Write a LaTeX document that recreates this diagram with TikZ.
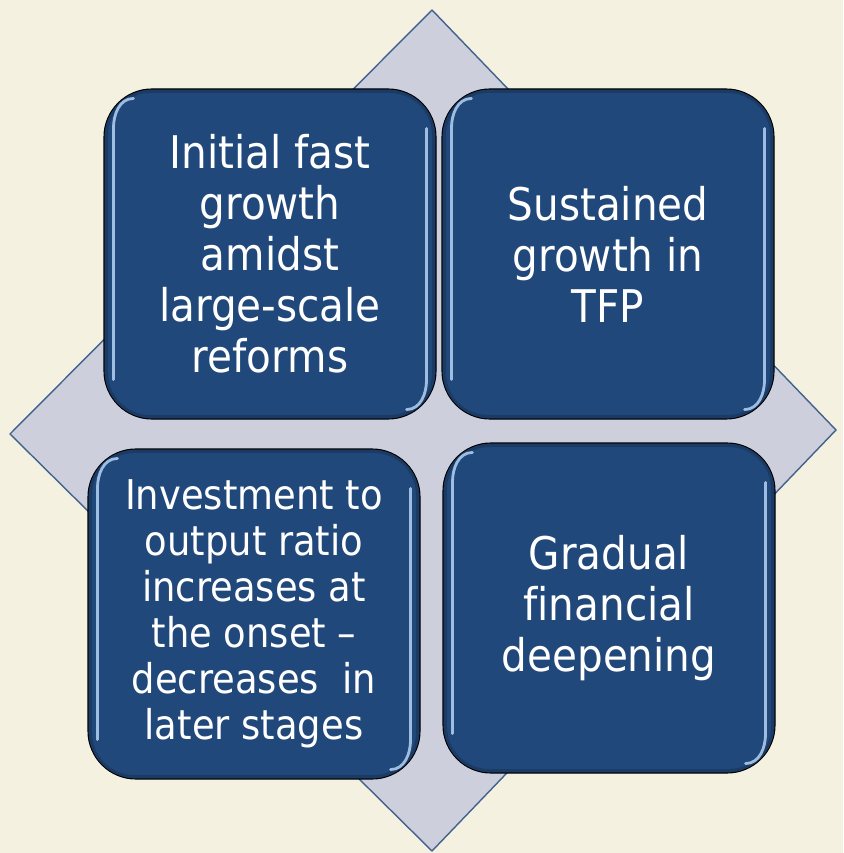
\documentclass[tikz,border=0pt]{standalone}
\usepackage{fontspec}
\setmainfont{DejaVu Sans}[FakeStretch=0.9, Ligatures=NoCommon]
\usetikzlibrary{positioning}

\definecolor{paper}{HTML}{F4F1E0}
\definecolor{kite}{HTML}{CDD0DC}
\definecolor{kiteline}{HTML}{41628D}
\definecolor{tile}{HTML}{21487B}
\definecolor{shine}{HTML}{B4D2F4}

\begin{document}
\begin{tikzpicture}[
      x=1pt, y=-1pt,
      box/.style={draw=black, line width=1.1pt, fill=tile, rounded corners=48pt,
                  minimum width=332pt, minimum height=330pt, inner sep=0pt,
                  align=center, text=white, font=\fontsize{45}{51}\selectfont},
      gleam/.style={draw=shine, line width=2.8pt, line cap=round, opacity=0.85},
      rim/.style={draw=tile!70!black, line width=3pt, rounded corners=44pt, opacity=0.6}
    ]
    % page and the kite behind the tiles
    \fill[paper] (0,0) rectangle (843,853);
    \useasboundingbox (0,0) rectangle (843,853);
    \coordinate (top) at (432,10);
    \coordinate (right) at (836,430);
    \coordinate (bottom) at (432,851);
    \coordinate (left) at (10,434);
    \filldraw[fill=kite, draw=kiteline, line width=1.4pt, line join=round]
      (top) -- (right) -- (bottom) -- (left) -- cycle;

    \node[box] (growth) at (270,254) {Initial fast\\growth\\amidst\\large-scale\\reforms};
    \node[box] (tfp) at (608,254) {Sustained\\growth in\\TFP};
    \node[box, font=\fontsize{41}{46}\selectfont] (invest) at (254,614)
      {Investment to\\output ratio\\increases at\\the onset --\\decreases\ \ in\\later stages};
    \node[box] (finance) at (609,608) {Gradual\\financial\\deepening};

    % bevel: dark rim and light streaks down the sides
    \foreach \n in {growth,tfp,invest,finance} {
      \draw[rim] ([shift={(3pt,-3pt)}]\n.north west) rectangle ([shift={(-3pt,3pt)}]\n.south east);
      \draw[gleam] ([shift={(30pt,-10pt)}]\n.north west) to[out=180,in=90]
        ([shift={(10pt,-40pt)}]\n.north west) -- ([shift={(10pt,40pt)}]\n.south west);
      \draw[gleam] ([shift={(-10pt,-40pt)}]\n.north east) -- ([shift={(-10pt,40pt)}]\n.south east)
        to[out=-90,in=0] ([shift={(-30pt,10pt)}]\n.south east);
    }
  \end{tikzpicture}
\end{document}
